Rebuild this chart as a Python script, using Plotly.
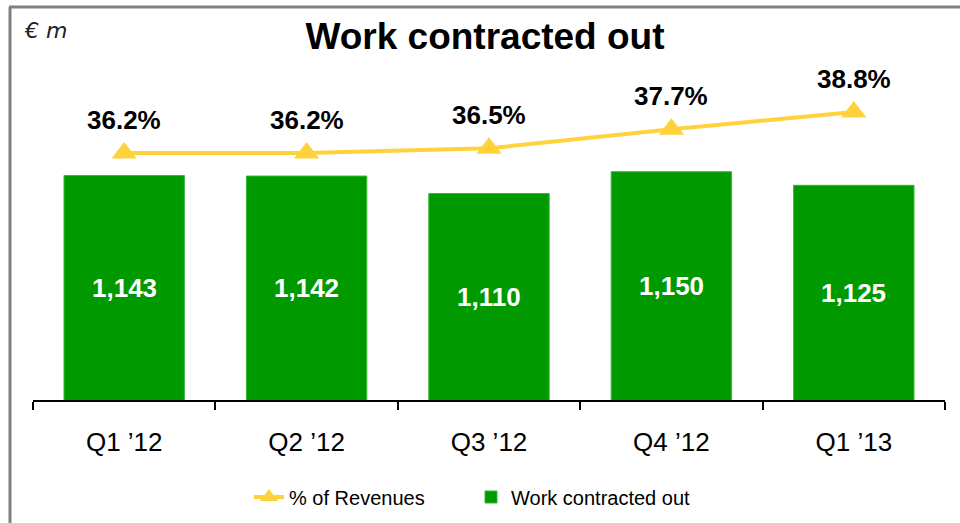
import plotly.graph_objects as go

categories = ["Q1 ’12", "Q2 ’12", "Q3 ’12", "Q4 ’12", "Q1 ’13"]
work_contracted = [1143, 1142, 1110, 1150, 1125]
pct_revenues = [36.2, 36.2, 36.5, 37.7, 38.8]
bar_labels = ["1,143", "1,142", "1,110", "1,150", "1,125"]
pct_labels = ["36.2%", "36.2%", "36.5%", "37.7%", "38.8%"]

FONT = "Liberation Sans, Arial, sans-serif"
GREEN = "#009900"
YELLOW = "#FFD23C"
Y_RANGE = [731, 1355]
Y2_RANGE = [20.57, 42.09]

fig = go.Figure()

fig.add_trace(go.Scatter(
    x=categories, y=pct_revenues, name="% of Revenues", yaxis="y2",
    mode="lines+markers",
    line=dict(color=YELLOW, width=4),
    marker=dict(symbol="triangle-up", size=22, color=YELLOW),
))

fig.add_trace(go.Bar(
    x=categories, y=work_contracted, name="Work contracted out",
    marker=dict(color=GREEN, line=dict(color="#33bb33", width=1)),
    width=0.66,
))

annotations = []
# bar value labels, centred in the visible part of each bar
for c, v, t in zip(categories, work_contracted, bar_labels):
    annotations.append(dict(
        x=c, y=(Y_RANGE[0] + v) / 2, xref="x", yref="y", text=t, showarrow=False,
        font=dict(size=26, color="white", family=FONT, weight="bold"),
        xanchor="center", yanchor="middle",
    ))
# percentage labels above markers
for c, v, t in zip(categories, pct_revenues, pct_labels):
    annotations.append(dict(
        x=c, y=v, xref="x", yref="y2", text=t, showarrow=False,
        yshift=33, font=dict(size=26, color="black", family=FONT, weight="bold"),
        xanchor="center", yanchor="middle",
    ))
annotations.append(dict(
    x=(22 - 33) / 912, y=(400 - 30) / 340, xref="paper", yref="paper",
    text="<i>€ m</i>", showarrow=False, xanchor="left", yanchor="middle",
    font=dict(size=22, color="#222222", family="DejaVu Sans, sans-serif"),
))

shapes = [
    dict(type="line", xref="paper", yref="paper",
         x0=(10 - 33) / 912, x1=(10 - 33) / 912,
         y0=(400 - 7) / 340, y1=(400 - 540) / 340,
         line=dict(color="#808080", width=3)),
    dict(type="line", xref="paper", yref="paper",
         x0=(9 - 33) / 912, x1=(970 - 33) / 912,
         y0=(400 - 7) / 340, y1=(400 - 7) / 340,
         line=dict(color="#808080", width=3)),
]

fig.update_layout(
    width=960, height=523,
    margin=dict(l=33, r=15, t=60, b=123, autoexpand=False),
    paper_bgcolor="white", plot_bgcolor="white",
    font=dict(family=FONT, color="black"),
    title=dict(text="<b>Work contracted out</b>", x=485 / 960, xanchor="center",
               y=1 - 36 / 523, yanchor="middle", xref="container", yref="container",
               font=dict(size=37, color="black", family=FONT)),
    xaxis=dict(showline=True, linecolor="black", linewidth=1.5,
               ticks="outside", tickson="boundaries", ticklen=8, tickcolor="black",
               tickwidth=1.5, tickfont=dict(size=26, color="black", family=FONT),
               ticklabelstandoff=18, showgrid=False, automargin=False),
    yaxis=dict(visible=False, range=Y_RANGE, showgrid=False),
    yaxis2=dict(visible=False, range=Y2_RANGE, overlaying="y", showgrid=False),
    showlegend=True,
    legend=dict(orientation="h", x=(249 - 33) / 912, xanchor="left",
                y=(400 - 497) / 340, yanchor="middle",
                font=dict(size=20, color="black", family=FONT),
                traceorder="normal", entrywidth=177, entrywidthmode="pixels"),
    annotations=annotations,
    shapes=shapes,
)

fig.write_html("out.html", config={"displayModeBar": False},
               post_script="document.body.style.margin='0';")
